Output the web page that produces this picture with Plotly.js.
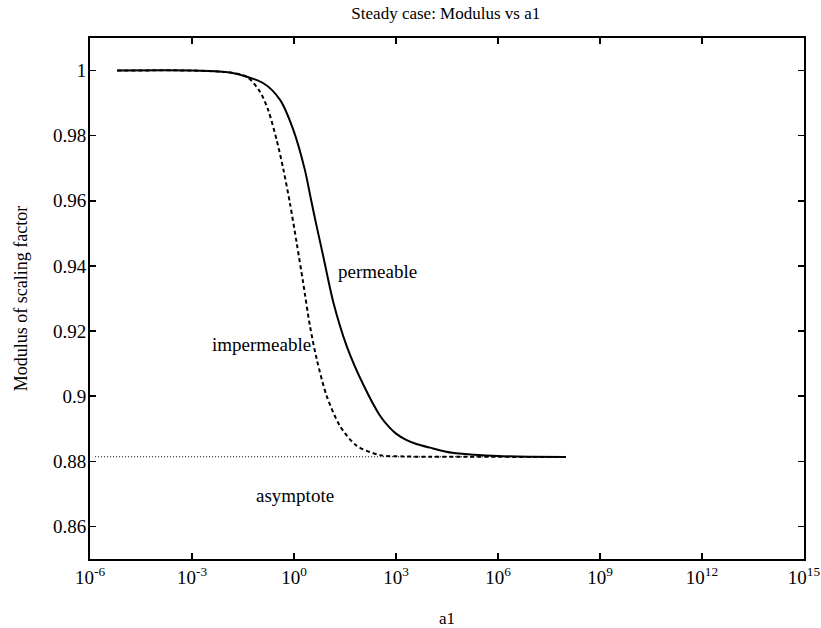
<!DOCTYPE html>
<html>
<head>
<meta charset="utf-8">
<script src="https://cdn.plot.ly/plotly-3.0.1.min.js"></script>
<style>html,body{margin:0;padding:0;background:#fff;}#chart{width:821px;height:628px;}</style>
</head>
<body>
<div id="chart"></div>
<script>
// log10(a1) and modulus values
var permLogA = [-5.2, -3, -1.88, -0.9, -0.41, -0.02, 0.32, 0.5, 0.67, 0.86, 1.16, 1.55, 2.04, 2.53, 2.8, 3.0, 3.3, 3.6, 4.0, 4.66, 5.3, 6, 7, 8];
var permVal  = [1.0, 1.0, 0.9994, 0.9961, 0.991, 0.9818, 0.9695, 0.9604, 0.952, 0.943, 0.9287, 0.9154, 0.9035, 0.894, 0.8905, 0.8885, 0.8866, 0.8853, 0.8842, 0.8826, 0.882, 0.8816, 0.8814, 0.8813];
var impLogA  = [-5.2, -3, -1.88, -1.39, -1.0, -0.76, -0.51, -0.31, -0.12, 0.08, 0.27, 0.47, 0.67, 0.96, 1.35, 1.84, 2.53, 3.2, 4, 5, 6, 7, 8];
var impVal   = [1.0, 1.0, 0.9994, 0.9981, 0.9935, 0.9879, 0.9787, 0.9695, 0.9593, 0.947, 0.9348, 0.9215, 0.9113, 0.9001, 0.8909, 0.8848, 0.8819, 0.8815, 0.8814, 0.8814, 0.8814, 0.8813, 0.8813];
var asymLogA = [-5.85, 8];
var asymVal  = 0.8814;

var xTickExp = [-6, -3, 0, 3, 6, 9, 12, 15];
var yTicks = [0.86, 0.88, 0.9, 0.92, 0.94, 0.96, 0.98, 1];
var yTickText = ["0.86", "0.88", "0.9", "0.92", "0.94", "0.96", "0.98", "1"];

function pow10(a){ return a.map(function(v){ return Math.pow(10, v); }); }

var font = "Liberation Serif, Times New Roman, serif";

var traces = [
  {x: pow10(asymLogA), y: asymLogA.map(function(){ return asymVal; }), mode: 'lines',
   line: {color: '#000', width: 1, dash: '1px,2px'}, hoverinfo: 'none'},
  {x: pow10(impLogA), y: impVal, mode: 'lines', line: {color: '#000', width: 2, dash: '4px,3px', shape: 'spline', smoothing: 0.8}},
  {x: pow10(permLogA), y: permVal, mode: 'lines', line: {color: '#000', width: 2, shape: 'spline', smoothing: 0.8}}
];

var layout = {
  width: 821, height: 628,
  margin: {l: 90, r: 17, t: 38, b: 69},
  paper_bgcolor: '#fff', plot_bgcolor: '#fff',
  showlegend: false,
  font: {family: font, color: '#000', size: 18},
  title: {text: 'Steady case: Modulus vs a1', x: 0.543, xanchor: 'center', y: 0.979, yanchor: 'middle',
          font: {family: font, size: 17, color: '#000'}},
  xaxis: {
    type: 'log', range: [-6, 15],
    tickvals: pow10(xTickExp),
    ticktext: xTickExp.map(function(e){ return '10<sup>' + e + '</sup>'; }),
    ticks: 'inside', ticklen: 6, tickwidth: 1.5, tickcolor: '#000',
    showline: true, linecolor: '#000', linewidth: 2, mirror: 'allticks',
    showgrid: false, zeroline: false,
    tickfont: {family: font, size: 19, color: '#000'},
    title: {text: 'a1', font: {family: font, size: 17, color: '#000'}, standoff: 32}
  },
  yaxis: {
    range: [0.85, 1.01],
    tickvals: yTicks, ticktext: yTickText,
    ticks: 'inside', ticklen: 6, tickwidth: 1.5, tickcolor: '#000',
    showline: true, linecolor: '#000', linewidth: 2, mirror: 'allticks',
    showgrid: false, zeroline: false, ticklabelstandoff: -2,
    tickfont: {family: font, size: 19, color: '#000'},
    title: {text: 'Modulus of scaling factor', font: {family: font, size: 18, color: '#000'}, standoff: 21}
  },
  annotations: [
    {x: 2.47, y: 0.9383, xref: 'x', yref: 'y', text: 'permeable', showarrow: false,
     font: {family: font, size: 19, color: '#000'}},
    {x: -0.97, y: 0.9159, xref: 'x', yref: 'y', text: 'impermeable', showarrow: false,
     font: {family: font, size: 19, color: '#000'}},
    {x: 0.03, y: 0.8694, xref: 'x', yref: 'y', text: 'asymptote', showarrow: false,
     font: {family: font, size: 19, color: '#000'}}
  ]
};

Plotly.newPlot('chart', traces, layout, {staticPlot: true, displayModeBar: false});
</script>
</body>
</html>
